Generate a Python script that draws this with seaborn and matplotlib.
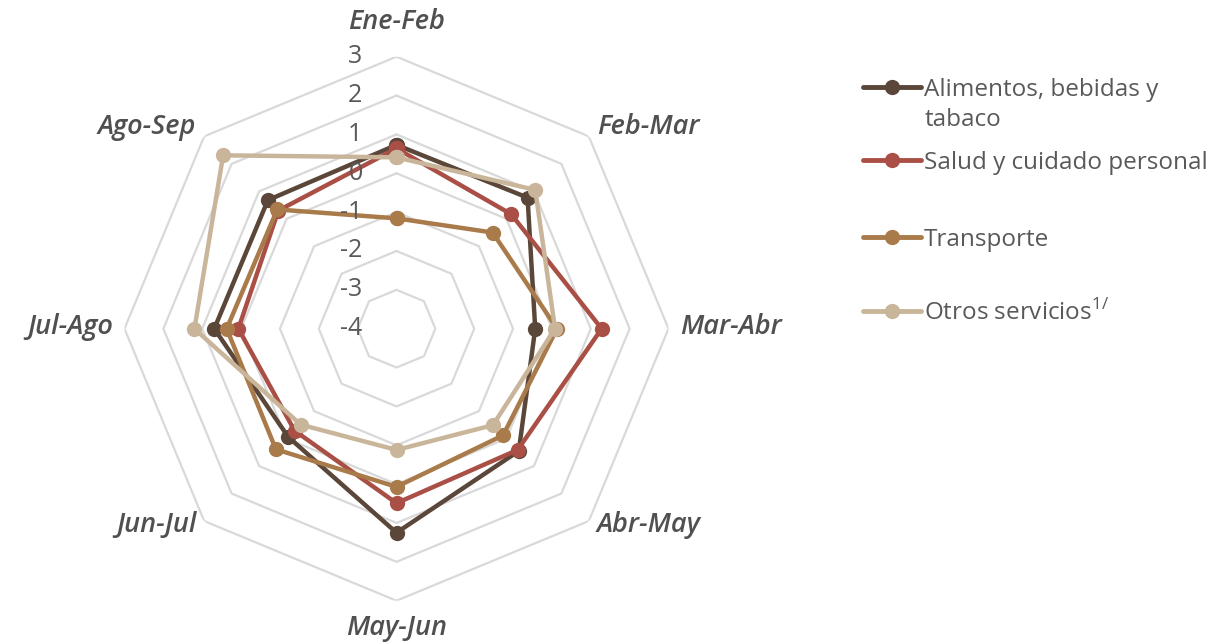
import numpy as np
import pandas as pd
import matplotlib
matplotlib.use("Agg")
import matplotlib.pyplot as plt
import seaborn as sns
from matplotlib.lines import Line2D

sns.set_style("white")
plt.rcParams['font.family'] = ['Open Sans', 'DejaVu Sans']
plt.rcParams['mathtext.fontset'] = 'custom'
plt.rcParams['mathtext.rm'] = 'Open Sans'

# Datos (variación por bimestre)
periodos = ["Ene-Feb", "Feb-Mar", "Mar-Abr", "Abr-May", "May-Jun", "Jun-Jul", "Jul-Ago", "Ago-Sep"]
series = ["Alimentos, bebidas y tabaco", "Salud y cuidado personal", "Transporte", "Otros servicios"]
alimentos = [0.73, 0.77, -0.43, 0.45, 1.25, -0.06, 0.69, 0.68]
salud = [0.64, 0.17, 1.28, 0.41, 0.49, -0.29, 0.07, 0.30]
transporte = [-1.16, -0.50, 0.13, -0.12, 0.07, 0.39, 0.37, 0.34]
otros = [0.41, 1.05, 0.08, -0.49, -0.88, -0.51, 1.20, 2.31]
niveles = [-4, -3, -2, -1, 0, 1, 2, 3]

colores = ["#5b4739", "#a94f46", "#a97a4a", "#c9b59a"]
texto_gris = "#595959"

n = len(periodos)
theta = np.linspace(0, 2 * np.pi, n, endpoint=False)
theta_cerrado = np.append(theta, 2 * np.pi)

filas = []
for nombre, valores in zip(series, [alimentos, salud, transporte, otros]):
    vals = list(valores) + [valores[0]]
    for t, v in zip(theta_cerrado, vals):
        filas.append({"serie": nombre, "theta": t, "valor": v})
df = pd.DataFrame(filas)

fig = plt.figure(figsize=(12.3, 6.43), dpi=100)
ax = fig.add_axes([124.5 / 1230, (643 - 600.7) / 643, 544 / 1230, 544 / 643], projection="polar")
ax.set_theta_offset(np.pi / 2)
ax.set_theta_direction(-1)

# anillos octogonales
for v in niveles[1:]:
    ax.plot(theta_cerrado, [v] * len(theta_cerrado), color="#d9d9d9", lw=1.6, zorder=1)

sns.lineplot(data=df, x="theta", y="valor", hue="serie", hue_order=series,
             palette=colores, sort=False, marker="o", markersize=11,
             markeredgewidth=0, linewidth=3.2, legend=False, ax=ax, zorder=3)

ax.set_ylim(-4, 3)
ax.grid(False)
ax.spines["polar"].set_visible(False)
ax.set_xticks([])
ax.set_yticks([])
ax.set_xlabel("")
ax.set_ylabel("")

# etiquetas del eje radial
for v in niveles:
    ax.annotate(str(v), xy=(0, v), xytext=(-34, 0), textcoords="offset pixels",
                ha="right", va="center", fontsize=18, color=texto_gris)

# etiquetas de periodos
offsets = [(0, 35, "center"), (8, 9, "left"), (12, 2, "left"), (8, -4, "left"),
           (0, -27, "center"), (-8, -4, "right"), (-11, 2, "right"), (-8, 9, "right")]
for t, lab, (dx, dy, ha) in zip(theta, periodos, offsets):
    ax.annotate(lab, xy=(t, 3), xytext=(dx, dy), textcoords="offset pixels",
                ha=ha, va="center", fontsize=19.5, fontweight="semibold", fontstyle="italic",
                color="#505050")

# leyenda
etiquetas = ["Alimentos, bebidas y", "Salud y cuidado personal", "Transporte", "Otros servicios$^{1/}$"]
pos_y = [90, 163, 240, 313]
for col, lab, y in zip(colores, etiquetas, pos_y):
    h = Line2D([], [], color=col, lw=3.5, marker="o", markersize=11, markeredgewidth=0)
    fig.legend([h], [lab], loc="center left", bbox_to_anchor=(863 / 1230, 1 - y / 643),
               frameon=False, borderpad=0, borderaxespad=0, handlelength=2.4,
               handletextpad=0.12, fontsize=17.5, labelcolor=texto_gris)
fig.text(925 / 1230, 1 - 120 / 643, "tabaco", ha="left", va="center", fontsize=17.5, color=texto_gris)

fig.savefig("out.png", dpi=100)
